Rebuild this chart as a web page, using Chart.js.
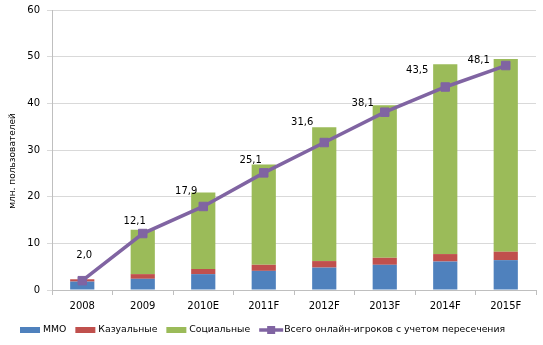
<!DOCTYPE html>
<html>
<head>
<meta charset="utf-8">
<script src="https://cdn.jsdelivr.net/npm/chart.js@4/dist/chart.umd.min.js"></script>
<style>
  html, body { margin: 0; padding: 0; background: #fff; }
  #wrap { width: 543px; height: 345px; }
</style>
</head>
<body>
<div id="wrap"><canvas id="c" width="543" height="345"></canvas></div>
<script>
// Online gamers in Russia, million users
const years = ['2008', '2009', '2010E', '2011F', '2012F', '2013F', '2014F', '2015F'];
const mmo = [1.8, 2.4, 3.4, 4.1, 4.8, 5.4, 6.1, 6.4];
const casual = [0.5, 1.0, 1.1, 1.3, 1.4, 1.5, 1.6, 1.8];
const social = [0, 9.5, 16.4, 21.5, 28.7, 32.7, 40.7, 41.3];
const totalPlayers = [2.0, 12.1, 17.9, 25.1, 31.6, 38.1, 43.5, 48.1];
const yTicks = [0, 10, 20, 30, 40, 50, 60];
const seriesNames = ['ММО', 'Казуальные', 'Социальные', 'Всего онлайн-игроков с учетом пересечения'];
const yTitle = 'млн. пользователей';

const COLORS = { mmo: '#4F81BD', casual: '#C0504D', social: '#9BBB59', total: '#8064A2' };
const FONT = '"DejaVu Sans", Verdana, sans-serif';

// Where each value label sits relative to its point (text centre offset)
const labelOffsets = [[2, -25], [-8, -12], [-17, -15], [-13, -12], [-22, -20], [-22, -9], [-28, -17], [-27, -5]];

const fmt = v => v.toFixed(1).replace('.', ',');

const valueLabels = {
  id: 'valueLabels',
  afterDatasetsDraw(chart) {
    const idx = chart.data.datasets.findIndex(d => d.type === 'line');
    const meta = chart.getDatasetMeta(idx);
    const ctx = chart.ctx;
    ctx.save();
    ctx.font = '10px ' + FONT;
    ctx.fillStyle = '#000';
    ctx.textAlign = 'center';
    ctx.textBaseline = 'middle';
    meta.data.forEach((pt, i) => {
      const off = labelOffsets[i] || [0, -14];
      ctx.fillText(fmt(chart.data.datasets[idx].data[i]), pt.x + off[0], pt.y + off[1]);
    });
    ctx.restore();
  }
};

const axisTitle = {
  id: 'axisTitle',
  afterDraw(chart) {
    const ctx = chart.ctx;
    ctx.save();
    ctx.translate(13, 161);
    ctx.rotate(-Math.PI / 2);
    ctx.font = '9px ' + FONT;
    ctx.fillStyle = '#000';
    ctx.textAlign = 'center';
    ctx.textBaseline = 'middle';
    ctx.fillText(yTitle, 0, 0);
    ctx.restore();
  }
};

const bottomLegend = {
  id: 'bottomLegend',
  afterDraw(chart) {
    const ctx = chart.ctx;
    const y = 330;
    let x = 20;
    ctx.save();
    ctx.font = '9.3px ' + FONT;
    ctx.textBaseline = 'middle';
    ctx.textAlign = 'left';
    chart.data.datasets.forEach(ds => {
      if (ds.type === 'line') {
        const w = 24;
        ctx.strokeStyle = ds.borderColor;
        ctx.lineWidth = 3.5;
        ctx.beginPath();
        ctx.moveTo(x, y);
        ctx.lineTo(x + w, y);
        ctx.stroke();
        ctx.fillStyle = ds.borderColor;
        ctx.fillRect(x + w / 2 - 4, y - 4, 8, 8);
        x += w + 1;
      } else {
        const w = 20;
        ctx.fillStyle = ds.backgroundColor;
        ctx.fillRect(x, y - 3, w, 6);
        x += w + 3;
      }
      ctx.fillStyle = '#000';
      ctx.fillText(ds.label, x, y);
      x += ctx.measureText(ds.label).width + 9;
    });
    ctx.restore();
  }
};

const barCommon = { type: 'bar', barPercentage: 0.4, categoryPercentage: 1, stack: 'users', order: 1, borderWidth: 0 };

new Chart(document.getElementById('c'), {
  data: {
    labels: years,
    datasets: [
      Object.assign({ label: seriesNames[0], data: mmo, backgroundColor: COLORS.mmo }, barCommon),
      Object.assign({ label: seriesNames[1], data: casual, backgroundColor: COLORS.casual }, barCommon),
      Object.assign({ label: seriesNames[2], data: social, backgroundColor: COLORS.social }, barCommon),
      {
        type: 'line',
        label: seriesNames[3],
        data: totalPlayers,
        stack: 'total',
        order: 0,
        borderColor: COLORS.total,
        backgroundColor: COLORS.total,
        borderWidth: 3.5,
        pointStyle: 'rect',
        pointRadius: 6,
        pointBackgroundColor: COLORS.total,
        pointBorderColor: COLORS.total,
        pointBorderWidth: 1,
        tension: 0
      }
    ]
  },
  options: {
    responsive: false,
    devicePixelRatio: 1,
    animation: false,
    layout: { padding: { left: 0, right: 0, top: 10, bottom: 0 } },
    plugins: {
      legend: { display: false },
      tooltip: { enabled: false }
    },
    scales: {
      x: {
        stacked: true,
        offset: true,
        grid: {
          display: true,
          offset: true,
          drawOnChartArea: false,
          drawTicks: true,
          tickLength: 5,
          color: '#BFBFBF'
        },
        border: { display: true, color: '#BFBFBF', width: 1 },
        ticks: { color: '#000', font: { family: FONT, size: 10 }, padding: 5, maxRotation: 0, autoSkip: false },
        afterFit(s) { s.height = 55; s.paddingLeft = 0; s.paddingRight = 0; }
      },
      y: {
        stacked: true,
        min: 0,
        max: 60,
        grid: { color: '#D9D9D9', tickLength: 5, drawTicks: true },
        border: { display: true, color: '#BFBFBF', width: 1 },
        ticks: { color: '#000', font: { family: FONT, size: 10 }, padding: 7 },
        afterBuildTicks(s) { s.ticks = yTicks.map(v => ({ value: v })); },
        afterFit(s) { s.width = 52; s.paddingTop = 0; s.paddingBottom = 0; }
      }
    }
  },
  plugins: [valueLabels, axisTitle, bottomLegend]
});
</script>
</body>
</html>
